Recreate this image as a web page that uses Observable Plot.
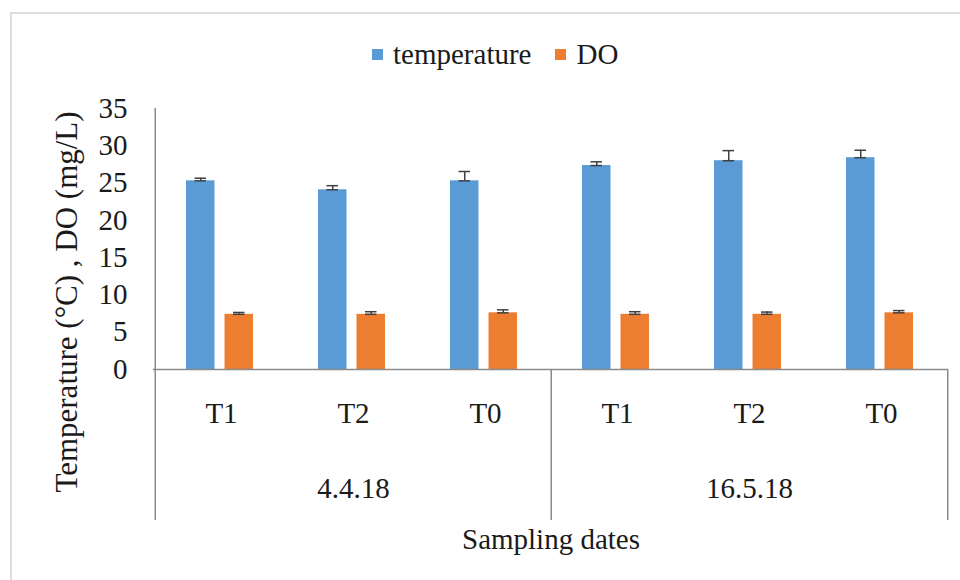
<!DOCTYPE html>
<html>
<head>
<meta charset="utf-8">
<script src="https://cdn.jsdelivr.net/npm/d3@7"></script>
<script src="https://cdn.jsdelivr.net/npm/@observablehq/plot@0.6"></script>
<style>
  html, body { margin: 0; padding: 0; background: #fff; }
  #wrap { position: relative; width: 960px; height: 580px; overflow: hidden; background: #fff; }
  #border { position: absolute; left: 10px; top: 12px; width: 1000px; height: 700px; border: 2px solid #dedede; box-sizing: border-box; }
  #chart { position: absolute; left: 0; top: 0; }
  figure { margin: 0 !important; position: relative; }
  .ch-swatches {
    position: absolute !important; top: 38px; left: 372px; margin: 0 !important;
    display: flex !important; align-items: center !important; min-height: 33px;
    font-family: "Liberation Serif", serif !important; font-size: 29px !important; color: #1a1a1a !important;
  }
  .ch-swatch { margin-right: 24px !important; display: inline-flex !important; align-items: center !important; }
  .ch-swatch > svg { margin-right: 10px !important; }
</style>
</head>
<body>
<div id="wrap"><div id="border"></div><div id="chart"></div></div>
<script>
const dates = ["4.4.18", "16.5.18"];
const treatments = ["T1", "T2", "T0"];
const seriesNames = ["temperature", "DO"];
const seriesColors = ["#5B9BD5", "#ED7D31"];
const temperature = [25.3, 24.1, 25.3, 27.35, 28.0, 28.4];
const temperatureErr = [0.35, 0.55, 1.25, 0.5, 1.35, 1.0];
const dissolvedOxygen = [7.4, 7.4, 7.6, 7.4, 7.4, 7.6];
const dissolvedOxygenErr = [0.25, 0.35, 0.4, 0.35, 0.3, 0.3];
const yTicks = [0, 5, 10, 15, 20, 25, 30, 35];
const yLabel = "Temperature (°C) , DO (mg/L)";
const xLabel = "Sampling dates";

const keys = dates.flatMap(d => treatments.map(t => d + "|" + t));
const tempRows = keys.map((k, i) => ({key: k, series: seriesNames[0], value: temperature[i], err: temperatureErr[i]}));
const doRows = keys.map((k, i) => ({key: k, series: seriesNames[1], value: dissolvedOxygen[i], err: dissolvedOxygenErr[i]}));
const dateRows = dates.map(d => ({date: d, first: d + "|" + treatments[0], mid: d + "|" + treatments[1], last: d + "|" + treatments[treatments.length - 1]}));

const W = 960, H = 580;
const mL = 153, mR = 12, mT = 108, mB = 211;
const band = (W - mL - mR) / keys.length;
const frameH = H - mT - mB;
const below = 151;
const errColor = "#404040";

// bar geometry within band (pixels)
const tIn = [31, band - 60], dIn = [69.5, band - 98.5];
const tC = (tIn[0] + (band - tIn[1])) / 2 - band / 2;
const dC = (dIn[0] + (band - dIn[1])) / 2 - band / 2;
const capW = 12;

function errMarks(rows, center) {
  const capL = band / 2 + center - capW / 2;
  const capR = band - capL - capW;
  return [
    Plot.ruleX(rows, {x: "key", y1: "value", y2: d => d.value + d.err, dx: center, stroke: errColor, strokeWidth: 1.5}),
    Plot.tickY(rows, {x: "key", y: d => d.value + d.err, insetLeft: capL, insetRight: capR, stroke: errColor, strokeWidth: 1.5}),
    Plot.tickY(rows, {x: "key", y: "value", insetLeft: capL, insetRight: capR, stroke: errColor, strokeWidth: 1.5})
  ];
}

const chart = Plot.plot({
  width: W, height: H,
  marginLeft: mL, marginRight: mR, marginTop: mT, marginBottom: mB,
  className: "ch",
  style: {fontFamily: "Liberation Serif, serif", fontSize: "29px", color: "#1a1a1a", background: "transparent"},
  x: {type: "band", domain: keys, padding: 0},
  y: {domain: [0, 35]},
  color: {domain: seriesNames, range: seriesColors, legend: true, swatchSize: 11},
  marks: [
    Plot.barY(tempRows, {x: "key", y: "value", fill: "series", insetLeft: tIn[0], insetRight: tIn[1]}),
    Plot.barY(doRows, {x: "key", y: "value", fill: "series", insetLeft: dIn[0], insetRight: dIn[1]}),
    ...errMarks(tempRows, tC),
    ...errMarks(doRows, dC),
    Plot.ruleY([0], {stroke: "#8a8a8a", strokeWidth: 1.5}),
    // y axis line continuing down as the left separator
    Plot.ruleX([keys[0]], {x: d => d, dx: -band / 2, insetBottom: -below, stroke: "#8a8a8a", strokeWidth: 1.5}),
    // group separators below the axis
    Plot.ruleX(dateRows.slice(1), {x: "first", dx: -band / 2, insetTop: frameH, insetBottom: -below, stroke: "#8a8a8a", strokeWidth: 1.5}),
    Plot.ruleX(dateRows.slice(-1), {x: "last", dx: band / 2, insetTop: frameH, insetBottom: -below, stroke: "#8a8a8a", strokeWidth: 1.5}),
    Plot.axisY({ticks: yTicks, tickSize: 0, tickPadding: 26, label: null}),
    Plot.axisX({tickSize: 0, tickPadding: 33, tickFormat: k => k.split("|")[1], label: null}),
    Plot.text([yLabel], {text: d => d, frameAnchor: "left", textAnchor: "middle", rotate: -90, dx: -86, dy: 63, fontSize: 31}),
    Plot.text(dateRows, {x: "mid", text: "date", frameAnchor: "bottom", lineAnchor: "bottom", dy: 128}),
    Plot.text([xLabel], {text: d => d, frameAnchor: "bottom", lineAnchor: "bottom", dy: 179})
  ]
});
document.getElementById("chart").appendChild(chart);
</script>
</body>
</html>
